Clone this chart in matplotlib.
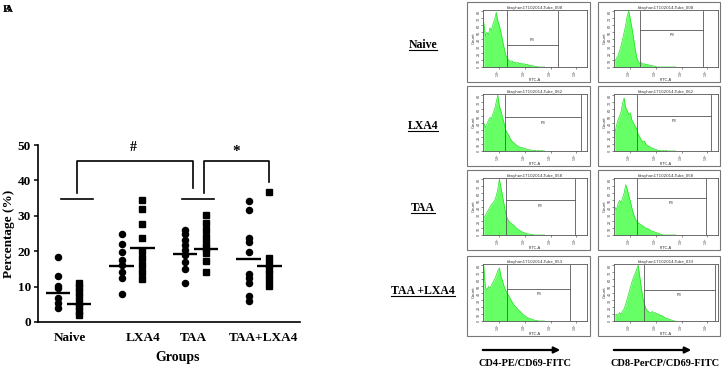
import numpy as np
import matplotlib.pyplot as plt
from matplotlib.patches import Rectangle, FancyArrowPatch
from matplotlib.lines import Line2D

W, H = 722, 369

# left panel: % of activated cells per group
groups = ['Naive', 'LXA4', 'TAA', 'TAA+LXA4']
circle_vals = [
    [18.4, 13.0, 10.2, 9.5, 6.7, 5.3, 3.9],
    [25.0, 22.0, 19.8, 17.5, 16.0, 14.2, 12.5, 7.9],
    [26.0, 24.9, 23.2, 21.8, 20.3, 18.9, 17.0, 14.9, 10.9],
    [34.2, 31.6, 23.6, 22.7, 19.9, 13.7, 12.3, 10.9, 7.4, 5.8],
]
square_vals = [
    [11.0, 9.8, 8.5, 7.0, 5.5, 4.5, 3.2, 2.0],
    [34.6, 32.0, 27.8, 23.8, 20.0, 18.0, 16.0, 14.0, 12.2],
    [30.2, 27.9, 26.0, 24.1, 22.2, 20.8, 19.4, 17.3, 14.2],
    [36.8, 18.0, 16.5, 15.0, 13.5, 12.0, 10.2],
]
circle_mean = [8.1, 15.9, 19.1, 17.7]
square_mean = [5.2, 20.8, 20.7, 15.8]
label_shift = [0.02, 0.17, -0.04, 0.07]

# right panel: flow histograms (fraction of max count, 40 bins over 0..0.6 of axis)
row_labels = ['Naive', 'LXA4', 'TAA', 'TAA +LXA4']
tube_ids = [['008', '008'], ['062', '062'], ['058', '058'], ['053', '033']]
hist_cd4_naive = [0.80, 0.55, 0.62, 0.58, 0.70, 0.66, 0.78, 0.85, 0.98, 0.82, 0.74, 0.62, 0.48, 0.35, 0.22, 0.16,
                  0.12, 0.10, 0.11, 0.08, 0.09, 0.07, 0.08, 0.06, 0.07, 0.05, 0.06, 0.04, 0.05, 0.03, 0.03, 0.02,
                  0.02, 0.01, 0.01, 0, 0, 0, 0, 0]
hist_cd8_naive = [0.10, 0.15, 0.20, 0.28, 0.38, 0.50, 0.62, 0.75, 0.92, 1.00, 0.85, 0.70, 0.52, 0.34, 0.18, 0.10,
                  0.06, 0.08, 0.05, 0.06, 0.04, 0.05, 0.03, 0.03, 0.02, 0.02, 0.01, 0, 0, 0, 0, 0,
                  0, 0, 0, 0, 0, 0, 0, 0]
hist_cd4_lxa4 = [0.50, 0.42, 0.48, 0.55, 0.60, 0.58, 0.68, 0.75, 0.88, 1.00, 0.80, 0.72, 0.60, 0.50, 0.38, 0.32,
                 0.28, 0.22, 0.18, 0.15, 0.13, 0.10, 0.09, 0.07, 0.06, 0.06, 0.04, 0.04, 0.03, 0.02, 0.02, 0.01,
                 0.01, 0.01, 0, 0.01, 0, 0.01, 0, 0]
hist_cd8_lxa4 = [0.30, 0.45, 0.55, 0.62, 0.70, 0.85, 0.95, 0.78, 0.72, 0.65, 0.68, 0.55, 0.50, 0.45, 0.40, 0.30,
                 0.25, 0.20, 0.16, 0.18, 0.12, 0.10, 0.08, 0.07, 0.05, 0.04, 0.03, 0.02, 0.01, 0.01, 0, 0.01,
                 0, 0.01, 0, 0, 0, 0, 0, 0]
hist_cd4_taa = [0.30, 0.35, 0.40, 0.45, 0.50, 0.55, 0.58, 0.62, 0.70, 0.82, 1.00, 0.85, 0.70, 0.55, 0.40, 0.30,
                0.25, 0.22, 0.20, 0.18, 0.15, 0.12, 0.10, 0.08, 0.07, 0.05, 0.04, 0.03, 0.02, 0.02, 0.01, 0.01,
                0, 0, 0, 0, 0, 0, 0, 0]
hist_cd8_taa = [0.50, 0.45, 0.55, 0.62, 0.58, 0.66, 0.75, 0.90, 0.82, 0.70, 0.60, 0.48, 0.38, 0.30, 0.25, 0.22,
                0.20, 0.18, 0.16, 0.14, 0.12, 0.12, 0.10, 0.08, 0.07, 0.06, 0.05, 0.04, 0.03, 0.02, 0.01, 0,
                0, 0, 0, 0, 0, 0, 0, 0]
hist_cd4_taa_lxa4 = [1.00, 0.60, 0.55, 0.62, 0.58, 0.65, 0.70, 0.75, 0.82, 0.90, 0.95, 0.80, 0.72, 0.62, 0.55, 0.50,
                     0.45, 0.40, 0.35, 0.30, 0.27, 0.24, 0.20, 0.18, 0.15, 0.12, 0.10, 0.08, 0.06, 0.05, 0.04, 0.03,
                     0.02, 0.01, 0.01, 0, 0, 0, 0, 0]
hist_cd8_taa_lxa4 = [0.10, 0.12, 0.10, 0.15, 0.12, 0.18, 0.22, 0.30, 0.40, 0.50, 0.60, 0.70, 0.78, 0.85, 0.92, 1.00,
                     0.80, 0.60, 0.42, 0.30, 0.22, 0.18, 0.16, 0.15, 0.17, 0.14, 0.15, 0.12, 0.13, 0.10, 0.10, 0.08,
                     0.06, 0.05, 0.04, 0.03, 0.02, 0.01, 0, 0]
hists = [[hist_cd4_naive, hist_cd8_naive], [hist_cd4_lxa4, hist_cd8_lxa4],
         [hist_cd4_taa, hist_cd8_taa], [hist_cd4_taa_lxa4, hist_cd8_taa_lxa4]]
# gate: left edge, P3 line height, right edge (axis fractions)
gates = [[(0.23, 0.39, 0.72), (0.25, 0.67, 0.86)],
         [(0.21, 0.60, 0.94), (0.22, 0.63, 0.93)],
         [(0.22, 0.62, 0.88), (0.22, 0.67, 0.88)],
         [(0.23, 0.58, 0.84), (0.29, 0.56, 0.97)]]


def fx(x):
    return x / W


def fy(y):
    return 1 - y / H


serif = 'Liberation Serif'
fig = plt.figure(figsize=(W / 100, H / 100), dpi=100)

# ---- scatter panel
ax = fig.add_axes([fx(38), fy(322), (300 - 38) / W, (322 - 145) / H])
off = 0.165
for i in range(len(groups)):
    ax.plot([i - off] * len(circle_vals[i]), circle_vals[i], 'o', color='black', ms=4.4, ls='none')
    ax.plot([i + off] * len(square_vals[i]), square_vals[i], 's', color='black', ms=3.8, ls='none')
    ax.plot([i - off - 0.19, i - off + 0.19], [circle_mean[i]] * 2, color='black', lw=1.7, solid_capstyle='butt')
    ax.plot([i + off - 0.19, i + off + 0.19], [square_mean[i]] * 2, color='black', lw=1.7, solid_capstyle='butt')

bk = dict(color='black', lw=1.2)
ax.plot([0.134 - 0.252, 0.134 + 0.252], [34.7, 34.7], **bk)
ax.plot([2.04 - 0.252, 2.04 + 0.252], [34.7, 34.7], **bk)
ax.plot([0.134, 0.134, 1.961, 1.961], [36.3, 45.6, 45.6, 37.8], **bk)
ax.plot([2 + off - 0.03, 2 + off - 0.03, 3 + off, 3 + off], [36.3, 45.6, 45.6, 39.6], **bk)
ax.text(1.016, 49.2, '#', ha='center', va='center', fontsize=10, fontweight='bold', family=serif)
ax.text(2.64, 48.3, '*', ha='center', va='center', fontsize=11, fontweight='bold', family=serif)

ax.set_xlim(-0.48, 3.646)
ax.set_ylim(0, 50)
ax.set_yticks(range(0, 51, 10))
ax.set_xticks([i + s for i, s in enumerate(label_shift)])
ax.set_xticklabels(groups)
for lab in ax.get_xticklabels() + ax.get_yticklabels():
    lab.set_family(serif)
    lab.set_fontweight('bold')
    lab.set_fontsize(9.5)
ax.tick_params(axis='x', length=0, pad=7)
ax.tick_params(axis='y', length=3, width=1.1, pad=2)
for s in ['top', 'right']:
    ax.spines[s].set_visible(False)
for s in ['left', 'bottom']:
    ax.spines[s].set_linewidth(1.2)
ax.set_ylabel('Percentage (%)', family=serif, fontweight='bold', fontsize=9.5)
ax.yaxis.set_label_coords((15 - 38) / 262, 0.5)
fig.text(fx(178), fy(358), 'Groups', ha='center', va='center', family=serif, fontweight='bold', fontsize=10)

fig.text(fx(3), fy(9), 'B', ha='left', va='center', family=serif, fontweight='bold', fontsize=8)
fig.text(fx(5), fy(9), 'A', ha='left', va='center', family=serif, fontweight='bold', fontsize=8)

# ---- flow cytometry panels
green = '#66ff66'
edge = '#22e022'
gray = '#555555'
box_left = [467, 598]
box_w = [123, 122]
box_top = [2, 86, 170, 256]
plot_left = [483, 614]
nb = len(hist_cd4_naive)
xs = (np.arange(nb) + 0.5) * 0.6 / nb

for r in range(4):
    for c in range(2):
        bt = box_top[r]
        fig.add_artist(Rectangle((fx(box_left[c]), fy(bt + 80)), box_w[c] / W, 80 / H,
                                 transform=fig.transFigure, fill=False, ec='#777777', lw=0.8))
        a = fig.add_axes([fx(plot_left[c]), fy(bt + 65), 104 / W, 57 / H])
        vals = hists[r][c]
        a.fill_between(xs, vals, color=green, lw=0)
        a.plot(xs, vals, color=edge, lw=0.5)
        gx, gy, gr = gates[r][c]
        a.plot([gx, gx], [0, 1], color=gray, lw=0.6)
        a.plot([gr, gr], [0, 1], color=gray, lw=0.6)
        a.plot([gx, gr], [gy, gy], color=gray, lw=0.6)
        dy = 0.1 if (r == 0 and c == 0) else -0.1
        a.text((gx + gr) / 2, gy + dy, 'P3', ha='center', va='center', fontsize=2.8, color='#333333')
        a.set_xlim(0, 1)
        a.set_ylim(0, 1.02)
        a.set_xticks([0.15, 0.40, 0.65, 0.89])
        a.set_xticklabels(['$10^2$', '$10^3$', '$10^4$', '$10^5$'], rotation=90)
        a.set_yticks(np.linspace(0, 1, 9))
        a.set_yticklabels(['0', '10', '20', '30', '40', '50', '60', '70', '80'], rotation=90)
        a.tick_params(labelsize=2.3, length=1.2, width=0.4, pad=0.6, colors='#333333')
        for s in a.spines.values():
            s.set_linewidth(0.6)
            s.set_color(gray)
        a.set_xlabel('FITC-A', fontsize=2.8, labelpad=0.8, color='#333333')
        a.set_ylabel('Count', fontsize=2.8, labelpad=0.8, color='#333333')
        a.set_title('bkayhan17102014-Tube_' + tube_ids[r][c], fontsize=2.8, pad=0.8, color='#333333')

# row labels, underlined
renderer = fig.canvas.get_renderer()
row_y = [45, 126, 208, 291]
for lab, y in zip(row_labels, row_y):
    t = fig.text(fx(423), fy(y), lab, ha='center', va='center', family=serif, fontweight='bold', fontsize=8.5)
    bb = t.get_window_extent(renderer=renderer).transformed(fig.transFigure.inverted())
    fig.add_artist(Line2D([bb.x0, bb.x1], [bb.y0 + 0.004, bb.y0 + 0.004], transform=fig.transFigure,
                          color='black', lw=0.8))

# axis arrows under the histograms
for x0, x1, xt, txt in [(480, 563, 525, 'CD4-PE/CD69-FITC'), (611, 694, 665, 'CD8-PerCP/CD69-FITC')]:
    fig.add_artist(FancyArrowPatch((fx(x0), fy(350)), (fx(x1), fy(350)), transform=fig.transFigure,
                                   arrowstyle='-|>', mutation_scale=9, lw=1.6, color='black'))
    fig.text(fx(xt), fy(363), txt, ha='center', va='center', family=serif, fontweight='bold', fontsize=7.5)

fig.savefig('out.png', dpi=100)
